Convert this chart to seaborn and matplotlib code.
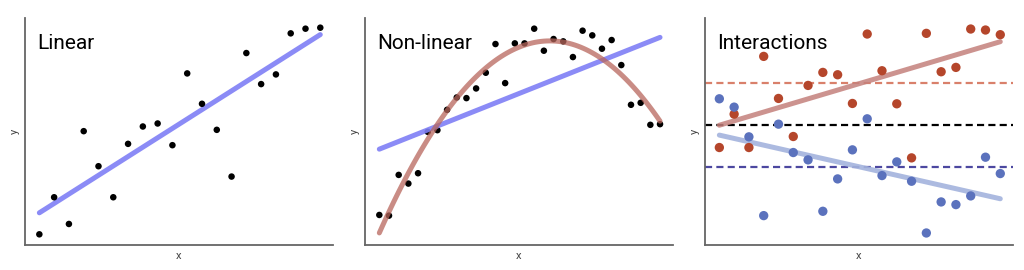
import numpy as np
import pandas as pd
import matplotlib
matplotlib.use("Agg")
import matplotlib.pyplot as plt
import seaborn as sns

# ---------------------------------------------------------------
# Dados
# ---------------------------------------------------------------
x_lin = list(range(1, 21))
y_lin = [3.2, 14.3, 6.3, 34.1, 23.6, 14.3, 30.3, 35.5, 36.4, 29.9,
         51.4, 42.3, 34.5, 20.5, 57.5, 48.2, 51.1, 63.4, 64.8, 65.1]

x_nl = list(range(1, 31))
y_nl = [9.0, 8.8, 21.0, 18.4, 21.5, 33.9, 34.4, 40.5, 44.2, 44.0,
        46.9, 51.6, 60.2, 48.5, 60.4, 60.4, 64.8, 58.2, 61.7, 61.0,
        56.3, 64.2, 62.8, 58.8, 61.4, 53.9, 42.0, 42.6, 36.0, 36.2]

x_int = list(range(1, 21))
y_red = [29.2, 39.2, 29.2, 56.5, 43.9, 32.5, 47.8, 51.7, 51.0, 42.4,
         63.2, 52.2, 42.3, 26.1, 63.4, 51.9, 53.2, 64.7, 64.4, 63.0]
y_blue = [43.8, 41.3, 32.4, 8.8, 36.2, 27.7, 25.5, 10.1, 19.8, 28.5,
          37.8, 20.8, 24.9, 19.1, 3.6, 12.9, 12.1, 14.7, 26.3, 21.4]

titulos = ["Linear", "Non-linear", "Interactions"]

# ---------------------------------------------------------------
# Estilo
# ---------------------------------------------------------------
sns.set_style("white")
plt.rcParams["font.family"] = ["Roboto", "DejaVu Sans"]

fig = plt.figure(figsize=(10.24, 2.7), dpi=100)
lefts = [25 / 1024, 365 / 1024, 705 / 1024]
axes = [fig.add_axes([l, 25 / 270, 308 / 1024, 227 / 270]) for l in lefts]


def prepara(ax, titulo, xlim):
    ax.set_xlim(*xlim)
    ax.set_ylim(0, 68)
    ax.set_xticks([])
    ax.set_yticks([])
    for lado in ["top", "right"]:
        ax.spines[lado].set_visible(False)
    for lado in ["left", "bottom"]:
        ax.spines[lado].set_color("#666666")
        ax.spines[lado].set_linewidth(1.3)
    ax.set_xlabel("x", fontsize=8, color="#444444", labelpad=4)
    ax.set_ylabel("y", fontsize=8, color="#444444", labelpad=4)
    ax.text(0.04, 0.93, titulo, transform=ax.transAxes, fontsize=15,
            ha="left", va="top", color="black")


# Painel 1 - Linear
ax = axes[0]
df1 = pd.DataFrame({"x": x_lin, "y": y_lin})
sns.regplot(data=df1, x="x", y="y", ax=ax, ci=None, scatter=False,
            line_kws={"color": "#7f7ff5", "lw": 3.6, "alpha": 0.9})
sns.scatterplot(data=df1, x="x", y="y", ax=ax, color="black", s=22,
                edgecolor="none", zorder=3)
prepara(ax, titulos[0], (0.03, 20.86))

# Painel 2 - Nao linear
ax = axes[1]
df2 = pd.DataFrame({"x": x_nl, "y": y_nl})
sns.regplot(data=df2, x="x", y="y", ax=ax, ci=None, scatter=False,
            line_kws={"color": "#7f7ff5", "lw": 3.6, "alpha": 0.9})
sns.regplot(data=df2, x="x", y="y", ax=ax, ci=None, scatter=False, order=2,
            line_kws={"color": "#b8665c", "lw": 3.6, "alpha": 0.75})
sns.scatterplot(data=df2, x="x", y="y", ax=ax, color="black", s=22,
                edgecolor="none", zorder=1)
prepara(ax, titulos[1], (-0.48, 31.34))

# Painel 3 - Interacoes
ax = axes[2]
df3 = pd.DataFrame({"x": x_int + x_int, "y": y_red + y_blue,
                    "grupo": ["a"] * 20 + ["b"] * 20})
cores = {"a": "#b5462b", "b": "#5b72bd"}
sns.scatterplot(data=df3, x="x", y="y", hue="grupo", palette=cores, ax=ax,
                s=45, edgecolor="none", legend=False, zorder=3)
sns.regplot(x=x_int, y=y_red, ax=ax, ci=None, scatter=False,
            line_kws={"color": "#c4807c", "lw": 3.6, "alpha": 0.85, "zorder": 2})
sns.regplot(x=x_int, y=y_blue, ax=ax, ci=None, scatter=False,
            line_kws={"color": "#a3b3dd", "lw": 3.6, "alpha": 0.9, "zorder": 2})
ax.axhline(np.mean(y_red), color="#d9806b", lw=1.6, dashes=(3.2, 1.9), zorder=1)
ax.axhline(np.mean(y_red + y_blue), color="black", lw=1.6, dashes=(3.2, 1.9), zorder=1)
ax.axhline(np.mean(y_blue), color="#4c48a0", lw=1.6, dashes=(3.2, 1.9), zorder=1)
prepara(ax, titulos[2], (0.03, 20.86))

fig.savefig("out.png", dpi=100)
